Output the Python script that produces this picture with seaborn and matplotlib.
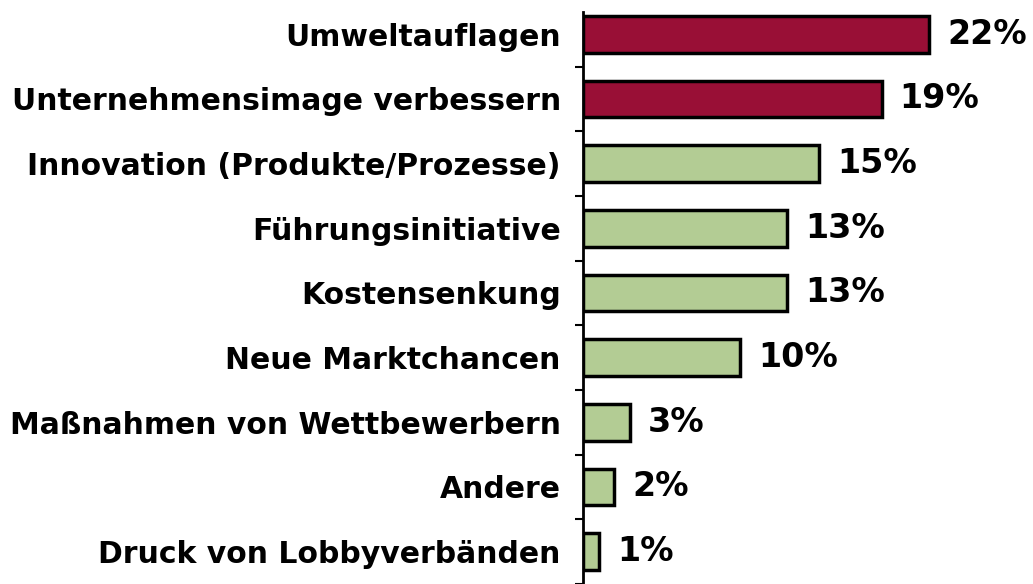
import matplotlib
matplotlib.use("Agg")
import matplotlib.pyplot as plt
import seaborn as sns
import numpy as np

categories = ["Umweltauflagen", "Unternehmensimage verbessern", "Innovation (Produkte/Prozesse)",
              "Führungsinitiative", "Kostensenkung", "Neue Marktchancen",
              "Maßnahmen von Wettbewerbern", "Andere", "Druck von Lobbyverbänden"]
values = [22, 19, 15, 13, 13, 10, 3, 2, 1]
groups = ["top", "top", "rest", "rest", "rest", "rest", "rest", "rest", "rest"]
group_colors = {"top": "#990f36", "rest": "#b3cc94"}

sns.set_theme(style="white")
plt.rcParams['font.family'] = ['DejaVu Sans']

fig = plt.figure(figsize=(10.33, 5.84), dpi=100)
ax = fig.add_axes([583/1033, 0.0, 1 - 583/1033, 582/584])

palette = [group_colors[g] for g in groups]
sns.barplot(x=values, y=categories, hue=categories, palette=palette, legend=False,
            edgecolor="black", linewidth=2.5, width=0.57, ax=ax, saturation=1)

ax.set_xlim(0, 450/15.72)
ax.set_ylim(8.5, -0.5)
ax.set_xlabel("")
ax.set_ylabel("")
ax.set_xticks([])
for s in ["top", "right", "bottom"]:
    ax.spines[s].set_visible(False)
ax.spines["left"].set_color("black")
ax.spines["left"].set_linewidth(2)
ax.spines["left"].set_bounds(8.6, -0.35)

ax.set_yticks(np.arange(len(categories)))
ax.set_yticklabels(categories, fontsize=21.5, fontweight="bold", color="black")
ax.tick_params(axis="y", which="major", length=0, pad=16)
ax.set_yticks(np.arange(len(categories)) + 0.5, minor=True)
ax.tick_params(axis="y", which="minor", length=6, width=1.5, color="black", left=True, direction="out")

for c in ax.containers:
    ax.bar_label(c, labels=[f"{int(round(v))}%" for v in c.datavalues], padding=13,
                 fontsize=24, fontweight="bold", color="black")

fig.savefig("out.png", dpi=100, facecolor="white")
